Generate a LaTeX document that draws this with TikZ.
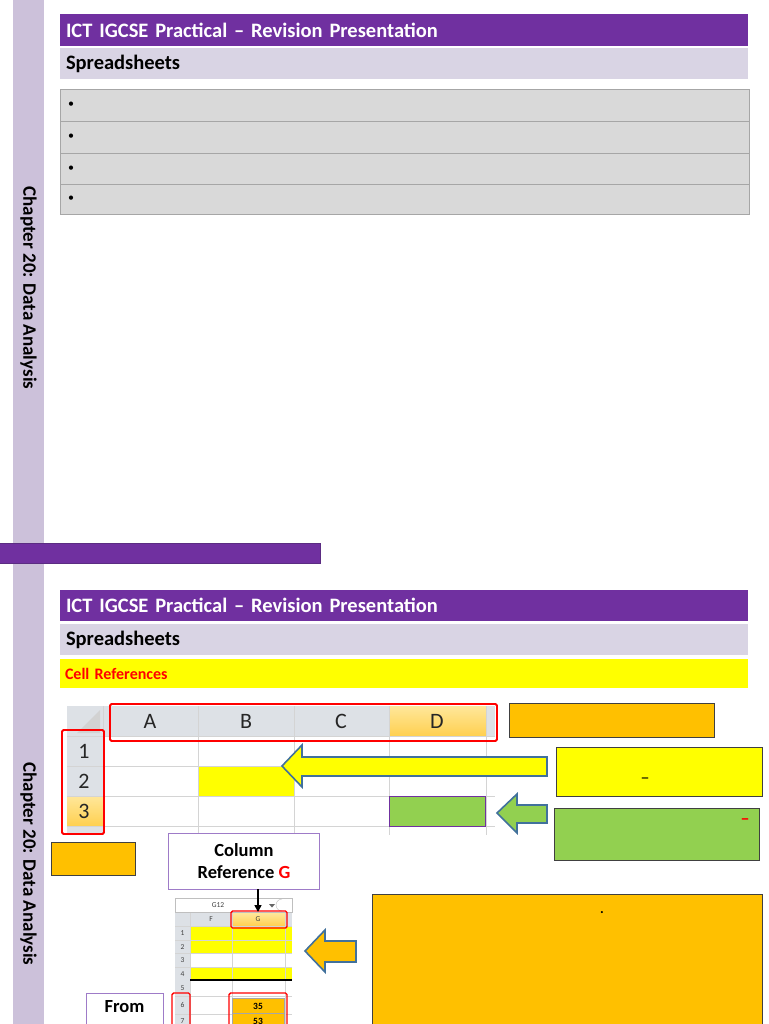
\documentclass[tikz,border=0pt]{standalone}
\usepackage{fontspec}
\setmainfont{Carlito}
\usetikzlibrary{arrows.meta, positioning, calc}
\definecolor{ictpurple}{HTML}{7030A0}
\definecolor{ictedge}{HTML}{5B2C82}
\definecolor{sidelilac}{HTML}{CCC1DA}
\definecolor{sublilac}{HTML}{D9D4E4}
\definecolor{tblgray}{HTML}{D9D9D9}
\definecolor{tblline}{HTML}{A6A6A6}
\definecolor{hdrgray}{HTML}{DDE1E6}
\definecolor{hdrtop}{HTML}{FFE79A}
\definecolor{hdrbot}{HTML}{FFD050}
\definecolor{gridgray}{HTML}{D4D4D4}
\definecolor{cellyellow}{HTML}{FFFF00}
\definecolor{cellgreen}{HTML}{92D050}
\definecolor{cellorange}{HTML}{FFC000}
\definecolor{arrowblue}{HTML}{41719C}
\definecolor{boxpurple}{HTML}{9E7BC8}
\definecolor{notegray}{HTML}{404040}

\begin{document}
\begin{tikzpicture}[x=1pt, y=-1pt,
    every node/.style={inner sep=0pt, outer sep=0pt},
    bar/.style={anchor=north west, text width=676pt, inner xsep=6pt,
                align=left, font=\fontsize{20.5}{24}\selectfont\bfseries},
    row/.style={anchor=north west, draw=tblline, fill=tblgray, line width=0.8pt,
                text width=673pt, inner xsep=8pt, align=left,
                font=\fontsize{12}{14}\selectfont},
    chaptxt/.style={rotate=-90, font=\fontsize{19}{20}\selectfont\bfseries},
    hdrtxt/.style={font=\fontsize{22}{22}\selectfont, text=black!85},
    gridline/.style={draw=gridgray, line width=0.6pt},
    redframe/.style={draw=red, line width=1.8pt, rounded corners=1.5pt},
    notebox/.style={anchor=north west, draw=notegray, line width=1pt},
    refbox/.style={draw=boxpurple, fill=white, line width=1pt, align=center,
                   font=\fontsize{18.5}{22}\selectfont\bfseries},
    blockarrow/.style={draw=arrowblue, line width=1.6pt, line join=miter},
    tinytxt/.style={font=\fontsize{7.5}{8}\selectfont, text=black!75}
  ]
  \useasboundingbox (0,0) rectangle (768,1024);
  \clip (0,0) rectangle (768,1024);
  \fill[white] (0,0) rectangle (768,1024);

  % side strip and chapter labels
  \fill[sidelilac] (13,0) rectangle (44,1024);
  \node[chaptxt] (chap1) at (28.5,288) {Chapter 20: Data Analysis};
  \node[chaptxt] (chap2) at (28.5,864) {Chapter 20: Data Analysis};

  % ---- slide 1
  \node[bar, fill=ictpurple, text=white, minimum height=32pt] (title1) at (60,14)
    {ICT IGCSE Practical -- Revision Presentation};
  \node[bar, fill=sublilac, minimum height=31pt] (sub1) at (60,48) {Spreadsheets};
  \node[row, minimum height=32pt] (pt1) at (60,89)  {•};
  \node[row, minimum height=32pt] (pt2) at (60,121) {•};
  \node[row, minimum height=31pt] (pt3) at (60,153) {•};
  \node[row, minimum height=30pt] (pt4) at (60,184) {•};

  % divider
  \draw[ictedge, fill=ictpurple, line width=1pt] (-2,543) rectangle (320,563);

  % ---- slide 2
  \node[bar, fill=ictpurple, text=white, minimum height=31pt] (title2) at (60,590)
    {ICT IGCSE Practical -- Revision Presentation};
  \node[bar, fill=sublilac, minimum height=31pt] (sub2) at (60,624) {Spreadsheets};
  \node[bar, fill=cellyellow, text=red, minimum height=29pt, text width=678pt, inner xsep=5pt,
        font=\fontsize{16}{18}\selectfont\bfseries] (topic) at (60,659) {Cell References};

  % big spreadsheet
  \fill[hdrgray] (67,706) rectangle (495,736);
  \fill[hdrgray] (67,736) rectangle (103,835);
  \shade[top color=hdrtop, bottom color=hdrbot] (389,706) rectangle (486,736);
  \shade[top color=hdrtop, bottom color=hdrbot] (67,796) rectangle (103,826);
  \fill[gray!35] (100,710) -- (100,733) -- (77,733) -- cycle;
  \fill[cellyellow] (198,766) rectangle (294,796);
  \foreach \x in {103,198,294,389,486}
    \draw[gridline] (\x,706) -- (\x,835);
  \foreach \y in {736,766,796,826}
    \draw[gridline] (67,\y) -- (495,\y);
  \foreach \c/\x in {A/150,B/246,C/341,D/437}
    \node[hdrtxt] (col\c) at (\x,721) {\c};
  \foreach \r/\y in {1/751,2/781,3/811}
    \node[hdrtxt] (row\r) at (84,\y) {\r};
  \node[draw=ictpurple, fill=cellgreen, line width=1pt,
        minimum width=96pt, minimum height=30pt] (cellD3) at (437.5,811) {};
  \draw[redframe] (110,704) rectangle (497,741);
  \draw[redframe] (62,730) rectangle (104,834);

  % notes on the right
  \node[notebox, fill=cellorange, minimum width=205pt, minimum height=34pt] (noteA) at (509,703) {};
  \node[notebox, fill=cellyellow, minimum width=206pt, minimum height=49pt] (noteB) at (556,747) {};
  \node[notebox, fill=cellgreen, minimum width=205pt, minimum height=52pt] (noteC) at (554,808) {};
  \node[font=\fontsize{18}{18}\selectfont] (dashB) at (645,781) {–};
  \node[font=\fontsize{18}{18}\selectfont\bfseries, text=red] (dashC) at (745,822) {–};

  % block arrows
  \draw[blockarrow, fill=cellyellow] (282,766) -- (302,745) -- (302,757) -- (547,757)
    -- (547,776) -- (302,776) -- (302,787) -- cycle;
  \draw[blockarrow, fill=cellgreen] (497,813) -- (517,794) -- (517,805) -- (547,805)
    -- (547,823) -- (517,823) -- (517,833) -- cycle;
  \draw[blockarrow, fill=cellorange] (305,951) -- (325,930) -- (325,941) -- (356,941)
    -- (356,962) -- (325,962) -- (325,972) -- cycle;

  \node[notebox, fill=cellorange, minimum width=84pt, minimum height=33pt] (noteD) at (51,842) {};

  % column reference callout
  \node[refbox, minimum width=151pt, minimum height=56pt] (colref) at (244,861)
    {Column\\Reference \textcolor{red}{G}};

  % small spreadsheet
  \node[anchor=north west, draw=gray!50, fill=white, minimum width=117pt,
        minimum height=14pt] (fbar) at (175,898) {};
  \node[tinytxt] (cellname) at (218,905) {G12};
  \fill[black!60] (269,904) -- (275,904) -- (272,907.5) -- cycle;
  \draw[gray!50] (282,899) arc (90:270:6pt and 6pt);
  \fill[hdrgray] (175,913) rectangle (292,926);
  \fill[hdrgray] (175,926) rectangle (190,1024);
  \shade[top color=hdrtop, bottom color=hdrbot] (232,913) rectangle (285,926);
  \fill[cellyellow] (190,926) rectangle (292,953);
  \fill[cellyellow] (190,967) rectangle (292,980);
  \foreach \x in {190,232,285}
    \draw[gridline] (\x,913) -- (\x,1024);
  \foreach \y in {926,940,953,967,996,1014}
    \draw[gridline] (175,\y) -- (292,\y);
  \draw[black, line width=1.2pt] (190,980) -- (292,980);
  \node[tinytxt] (colF) at (211,919.5) {F};
  \node[tinytxt] (colG) at (258,919.5) {G};
  \foreach \r/\y in {1/933,2/947,3/960,4/974,5/988,6/1005,7/1021}
    \node[tinytxt] (srow\r) at (182.5,\y) {\r};
  \node[draw=gray!70, fill=cellorange, minimum width=52pt, minimum height=16pt,
        font=\fontsize{9.5}{10}\selectfont\bfseries] (g6) at (258,1006) {35};
  \node[draw=gray!70, fill=cellorange, minimum width=52pt, minimum height=16pt,
        font=\fontsize{9.5}{10}\selectfont\bfseries] (g7) at (258,1021) {53};
  \draw[redframe, line width=1.4pt] (231,911) rectangle (287,928);
  \draw[redframe, line width=1.4pt] (172,993) rectangle (190,1035);
  \draw[redframe, line width=1.4pt] (229,993) rectangle (287,1035);

  \coordinate (gtop) at (258,912);
  \draw[-{Triangle[length=7pt, width=7pt]}, line width=1.6pt] (colref.south -| gtop) -- (gtop);

  % big note and the From label
  \node[notebox, fill=cellorange, minimum width=390pt, minimum height=150pt] (noteE) at (372,894) {};
  \node[font=\fontsize{14}{14}\selectfont\bfseries] (dotE) at (602,913) {.};
  \node[refbox, anchor=north west, text width=77pt, inner ysep=7pt, text depth=30pt] (from) at (86,993) {From};
\end{tikzpicture}
\end{document}
